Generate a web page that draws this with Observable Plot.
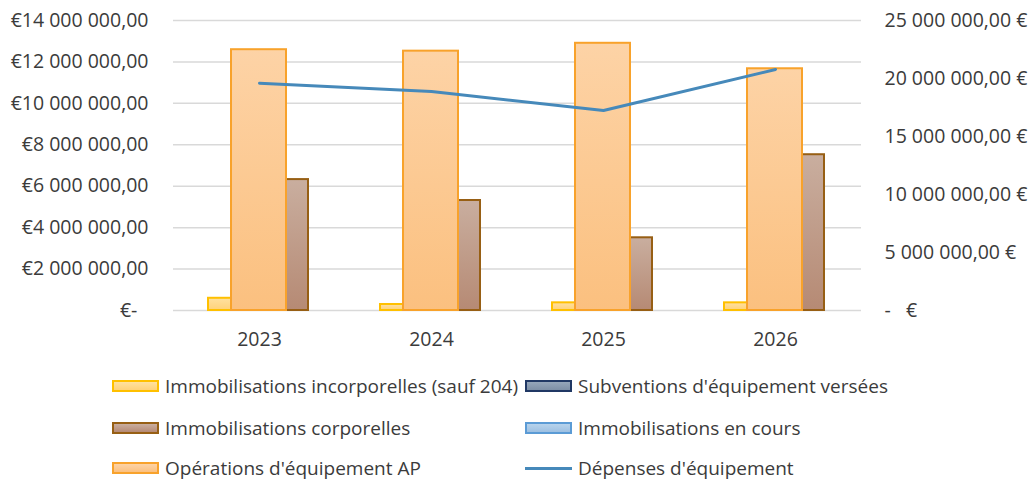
<!DOCTYPE html>
<html><head><meta charset="utf-8">
<script src="https://cdn.jsdelivr.net/npm/d3@7"></script>
<script src="https://cdn.jsdelivr.net/npm/@observablehq/plot@0.6"></script>
<style>
body{margin:0;background:#fff;font-family:"Open Sans",sans-serif;color:#3b3b3b}
#legend{position:relative;width:1031px;height:125px}
.item{position:absolute;display:flex;align-items:center;font-size:19px;white-space:nowrap;transform:translateY(-50%)}
.sw{width:47px;height:12px;box-sizing:border-box;border:2px solid;margin-right:6px}
.ln{width:47px;height:3px;margin-right:6px}
</style></head><body><div id="chart"></div><div id="legend"></div>
<script>
// ---- data ----
const years = ["2023", "2024", "2025", "2026"];
const incorporelles = [590000, 290000, 370000, 370000];
const subventions = [0, 0, 0, 0];
const corporelles = [6320000, 5310000, 3510000, 7520000];
const enCours = [0, 0, 0, 0];
const operationsAP = [12590000, 12520000, 12900000, 11670000];
const depenses = [19590000, 18880000, 17240000, 20780000]; // secondary axis
const leftTicks = [0, 2e6, 4e6, 6e6, 8e6, 10e6, 12e6, 14e6];
const rightTicks = [0, 5e6, 10e6, 15e6, 20e6, 25e6];
const seriesNames = {
  incorp: "Immobilisations incorporelles (sauf 204)",
  subv: "Subventions d'équipement versées",
  corp: "Immobilisations corporelles",
  cours: "Immobilisations en cours",
  ap: "Opérations d'équipement AP",
  dep: "Dépenses d'équipement"
};

// ---- layout ----
const W = 1031, H = 360, ML = 173, MR = 170, MT = 20, MB = 50;
const bandW = (W - ML - MR) / years.length;
const slotStart = 35, slotW = 25;
const slot = i => ({insetLeft: slotStart + slotW * i, insetRight: bandW - (slotStart + slotW * (i + 1))});
const apInset = {insetLeft: 58, insetRight: 59};
const k = leftTicks[leftTicks.length - 1] / rightTicks[rightTicks.length - 1];

const rows = (arr, key) => years.map((y, i) => ({year: y, series: key, value: arr[i]}));

const group = v => {
  const [i, d] = Math.abs(v).toFixed(2).split(".");
  return i.replace(/\B(?=(\d{3})+(?!\d))/g, " ") + "," + d;
};
const fmtL = v => v === 0 ? "€-\u2007" : "€" + group(v);
const fmtR = v => v === 0 ? "-\u00a0\u00a0\u00a0€" : group(v) + " €";

const col = {
  incorp: {fill: "url(#gIncorp)", stroke: "#ffc000"},
  subv: {fill: "#8497b0", stroke: "#203864"},
  corp: {fill: "url(#gCorp)", stroke: "#975f14"},
  cours: {fill: "#a9c8e6", stroke: "#5b9bd5"},
  ap: {fill: "url(#gAP)", stroke: "#f8a22b"},
  dep: "#4689ba"
};

const bar = (arr, key, inset) => Plot.barY(rows(arr, key), {
  x: "year", y: "value", filter: d => d.value > 0,
  fill: col[key].fill, stroke: col[key].stroke, strokeWidth: 2, ...inset
});

const chart = Plot.plot({
  width: W, height: H,
  marginLeft: ML, marginRight: MR, marginTop: MT, marginBottom: MB,
  style: {fontFamily: "'Open Sans', sans-serif", fontSize: "19.5px", color: "#3b3b3b", background: "#fff"},
  x: {domain: years, padding: 0},
  y: {domain: [0, leftTicks[leftTicks.length - 1]]},
  marks: [
    Plot.gridY(leftTicks, {stroke: "#d9d9d9", strokeOpacity: 1, strokeWidth: 1.5}),
    bar(incorporelles, "incorp", slot(0)),
    bar(subventions, "subv", slot(1)),
    bar(enCours, "cours", slot(2)),
    bar(corporelles, "corp", slot(3)),
    bar(operationsAP, "ap", apInset),
    Plot.lineY(rows(depenses, "dep"), {x: "year", y: d => d.value * k, stroke: col.dep, strokeWidth: 3}),
    Plot.axisX({tickSize: 0, tickPadding: 22, label: null}),
    Plot.axisY(leftTicks, {anchor: "left", tickSize: 0, tickPadding: 25, tickFormat: fmtL, label: null}),
    Plot.axisY(rightTicks.map(v => v * k), {anchor: "right", tickSize: 0, tickPadding: 23, tickFormat: v => fmtR(Math.round(v / k)), label: null})
  ]
});

const ns = "http://www.w3.org/2000/svg";
const defs = document.createElementNS(ns, "defs");
const grad = (id, c1, c2) => {
  const g = document.createElementNS(ns, "linearGradient");
  g.setAttribute("id", id); g.setAttribute("x1", 0); g.setAttribute("y1", 0); g.setAttribute("x2", 0); g.setAttribute("y2", 1);
  [[0, c1], [1, c2]].forEach(([o, c]) => {
    const s = document.createElementNS(ns, "stop");
    s.setAttribute("offset", o); s.setAttribute("stop-color", c); g.appendChild(s);
  });
  defs.appendChild(g);
};
grad("gIncorp", "#ffe1a0", "#ffd27a");
grad("gCorp", "#c9ae9f", "#b68a74");
grad("gAP", "#fdd3a6", "#fbc07f");
chart.insertBefore(defs, chart.firstChild);
document.getElementById("chart").appendChild(chart);

// ---- legend ----
const legendItems = [
  {key: "incorp", x: 112, y: 26, bg: "linear-gradient(#ffe1a0,#ffd27a)"},
  {key: "subv", x: 525, y: 26, bg: "linear-gradient(#95a6ba,#7d8fa6)"},
  {key: "corp", x: 112, y: 68, bg: "linear-gradient(#c9ae9f,#b68a74)"},
  {key: "cours", x: 525, y: 68, bg: "linear-gradient(#b7d3ec,#9dc0e2)"},
  {key: "ap", x: 112, y: 108, bg: "linear-gradient(#fdd3a6,#fbc07f)"},
  {key: "dep", x: 525, y: 108, line: true}
];
const lg = document.getElementById("legend");
legendItems.forEach(it => {
  const d = document.createElement("div");
  d.className = "item";
  d.style.left = it.x + "px"; d.style.top = it.y + "px";
  const s = document.createElement("span");
  if (it.line) { s.className = "ln"; s.style.background = col.dep; }
  else { s.className = "sw"; s.style.background = it.bg; s.style.borderColor = col[it.key].stroke; }
  d.appendChild(s);
  const t = document.createElement("span");
  t.textContent = seriesNames[it.key];
  d.appendChild(t);
  lg.appendChild(d);
});
</script></body></html>
